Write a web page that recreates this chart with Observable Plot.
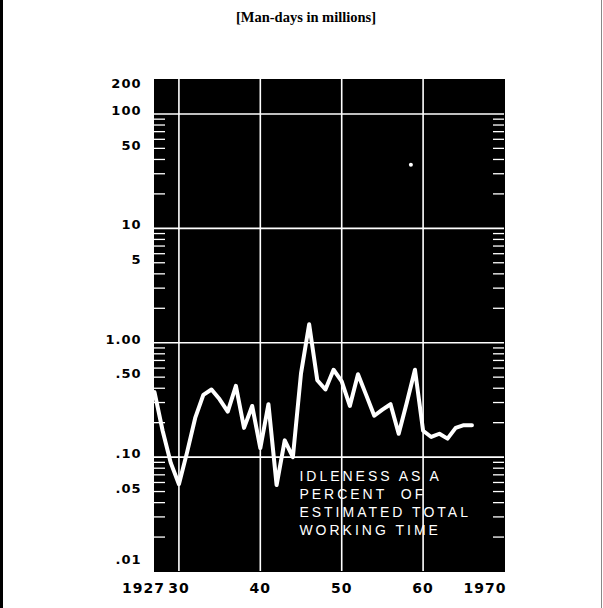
<!DOCTYPE html>
<html><head><meta charset="utf-8">
<script src="https://cdn.jsdelivr.net/npm/d3@7"></script>
<script src="https://cdn.jsdelivr.net/npm/@observablehq/plot@0.6"></script>
<style>
body{margin:0;background:#fff;}
#wrap{position:relative;width:603px;height:608px;overflow:hidden;background:#fff;}
#title{height:34px;text-align:center;padding-left:9px;font:bold 14.5px "Liberation Serif",serif;line-height:34px;color:#000;}
.bl{position:absolute;left:0;top:0;width:3px;height:608px;background:#000;}
.br{position:absolute;left:601px;top:0;width:1px;height:608px;background:#888;}
</style></head><body>
<div id="wrap"><div id="title">[Man-days in millions]</div><div id="chart"></div><div class="bl"></div><div class="br"></div></div>
<script>
const years = [1927,1928,1929,1930,1931,1932,1933,1934,1935,1936,1937,1938,1939,1940,1941,1942,1943,1944,1945,1946,1947,1948,1949,1950,1951,1952,1953,1954,1955,1956,1957,1958,1959,1960,1961,1962,1963,1964,1965,1966];
const idleness = [0.37,0.17,0.089,0.058,0.11,0.22,0.35,0.39,0.32,0.25,0.42,0.18,0.28,0.12,0.29,0.057,0.14,0.10,0.54,1.45,0.47,0.39,0.58,0.46,0.28,0.53,0.35,0.23,0.26,0.29,0.16,0.30,0.58,0.17,0.15,0.16,0.145,0.18,0.19,0.19];
const strayDot = [{year:1958.5, v:36}];
const yTopTick = [200], yTopLabel = ["200"];
const yTicks = [100,50,10,5,1,0.5,0.1,0.05];
const yLabels = ["100","50","10","5","1.00",".50",".10",".05"];
const yBottomTick = [0.01], yBottomLabel = [".01"];
const xTicks = [1930,1940,1950,1960];
const xLabels = ["30","40","50","60"];
const xFirst = [1927], xLast = [1970];
const majorY = [100,10,1,0.1];
const majorX = [1930,1940,1950,1960];
const decades = [0.01,0.1,1,10];
const minorY = [];
for (const d of decades) for (let k = 2; k <= 9; k++) minorY.push(+(k*d).toPrecision(3));
const noteText = "IDLENESS AS A\nPERCENT  OF\nESTIMATED TOTAL\nWORKING TIME";
const noteAt = {year:1944.8, v:0.081};

const data = years.map((y,i)=>({year:y, v:idleness[i]}));
const yFont = {fontSize:13, fontWeight:"bold", fontFamily:"DejaVu Sans", fill:"black"};
const xFont = {fontSize:14, fontWeight:"bold", fontFamily:"DejaVu Sans"};
const yLab = (ticks, labels, dy) => Plot.text(ticks, {y:d=>d, text:(d,i)=>labels[i], frameAnchor:"left", textAnchor:"end", dx:-13, dy, ...yFont});

const chart = Plot.plot({
  width:603, height:574,
  marginLeft:154, marginRight:99, marginTop:45, marginBottom:37,
  x:{domain:[1927,1970], label:null},
  y:{type:"log", domain:[0.01,200], label:null, axis:null},
  style:{background:"white", color:"black", overflow:"visible"},
  marks:[
    Plot.frame({fill:"black", stroke:"black"}),
    Plot.ruleY(majorY,{stroke:"white", strokeWidth:1.6}),
    Plot.ruleX(majorX,{stroke:"white", strokeWidth:1.6}),
    Plot.tickY(minorY,{y:d=>d, stroke:"white", strokeWidth:1.3, insetRight:339}),
    Plot.tickY(minorY,{y:d=>d, stroke:"white", strokeWidth:1.3, insetLeft:339}),
    Plot.line(data,{x:"year", y:"v", stroke:"white", strokeWidth:4}),
    Plot.dot(strayDot,{x:"year", y:"v", r:2, fill:"white"}),
    Plot.text([noteText],{x:()=>noteAt.year, y:()=>noteAt.v, text:d=>d, textAnchor:"start", lineAnchor:"top", lineHeight:1.3, fill:"white", fontSize:14, fontFamily:"Liberation Sans"}),
    yLab(yTopTick, yTopLabel, 4),
    yLab(yTicks, yLabels, -3),
    yLab(yBottomTick, yBottomLabel, -12),
    Plot.axisX(xTicks,{tickSize:0, tickPadding:12, tickFormat:(d)=>xLabels[xTicks.indexOf(d)], ...xFont}),
    Plot.axisX(xFirst,{tickSize:0, tickPadding:12, dx:-11, tickFormat:d=>String(d), ...xFont}),
    Plot.axisX(xLast,{tickSize:0, tickPadding:12, dx:2, textAnchor:"end", tickFormat:d=>String(d), ...xFont})
  ]
});
document.getElementById("chart").appendChild(chart);
// letter spacing for the wide lettering of the original
d3.select(chart).selectAll("text").each(function(){
  const t = this.textContent;
  if (/IDLENESS|PERCENT|ESTIMATED|WORKING/.test(t)) this.style.letterSpacing = "3px";
  else if (this.getAttribute("font-size")==="13") this.style.letterSpacing = "1.5px";
  else this.style.letterSpacing = "1px";
});
</script>
</body></html>
